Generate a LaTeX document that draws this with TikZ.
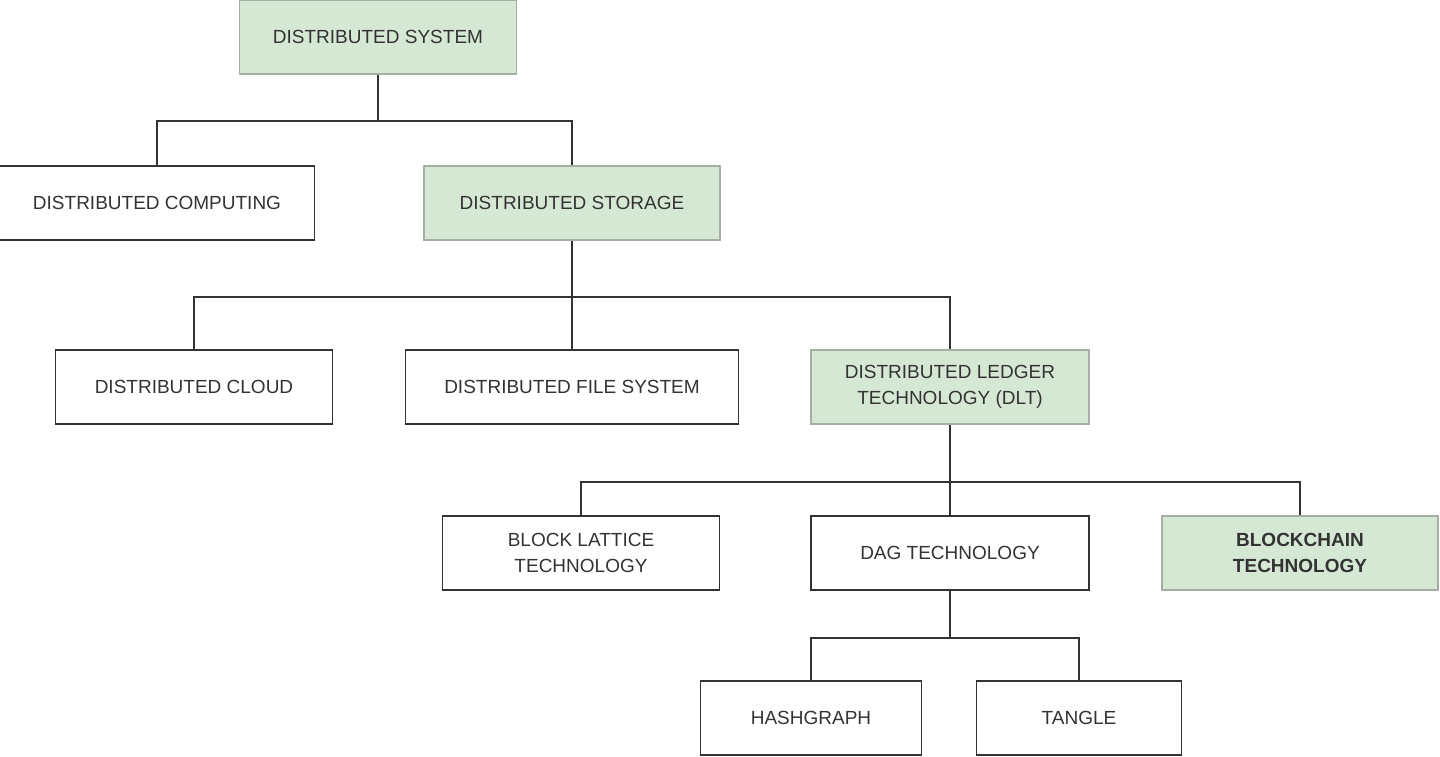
\documentclass[tikz,border=0pt]{standalone}
\usepackage{fontspec}
\setmainfont{Liberation Sans}
\definecolor{boxgreen}{HTML}{D5E8D4}
\definecolor{txtgray}{HTML}{333333}
\begin{document}
\begin{tikzpicture}[x=1pt,y=-1pt,
		box/.style={draw=black!80,line width=1.6pt,fill=white,text=txtgray,font=\fontsize{19}{26}\selectfont,align=center,inner sep=0pt,minimum height=74pt},
		gbox/.style={box,fill=boxgreen,draw=boxgreen!60!black!70},
		link/.style={line width=1.6pt,draw=black!80}]
			\useasboundingbox (0,0) rectangle (1440,757);
			\node[gbox,minimum width=277pt] (ds)    at (378,37)	{DISTRIBUTED SYSTEM};
			\node[box,minimum width=315pt]  (dc)    at (157,203)	{DISTRIBUTED COMPUTING};
			\node[gbox,minimum width=296pt] (dst)   at (572,203)	{DISTRIBUTED STORAGE};
			\node[box,minimum width=277pt]  (cloud) at (194,387)	{DISTRIBUTED CLOUD};
			\node[box,minimum width=333pt]  (dfs)   at (572,387)	{DISTRIBUTED FILE SYSTEM};
			\node[gbox,minimum width=278pt] (dlt)   at (950,387)	{DISTRIBUTED LEDGER\\TECHNOLOGY (DLT)};
			\node[box,minimum width=277pt]  (blt)   at (581,553)	{BLOCK LATTICE\\TECHNOLOGY};
			\node[box,minimum width=278pt]  (dag)   at (950,553)	{DAG TECHNOLOGY};
			\node[gbox,minimum width=276pt,font=\fontsize{19}{26}\selectfont\bfseries] (bc) at (1300,553) {BLOCKCHAIN\\TECHNOLOGY};
			\node[box,minimum width=221pt]  (hash)  at (811,718)	{HASHGRAPH};
			\node[box,minimum width=205pt]  (tangle) at (1079,718)	{TANGLE};
			%
			\foreach \u\v\h in {ds/dc/46, ds/dst/46, dst/cloud/56, dst/dfs/56, dst/dlt/56,
				dlt/blt/57, dlt/dag/57, dlt/bc/57, dag/hash/47, dag/tangle/47}
			{	\draw[link] (\u.south) -- ++(0,\h) -| (\v.north);
			}
\end{tikzpicture}
\end{document}
